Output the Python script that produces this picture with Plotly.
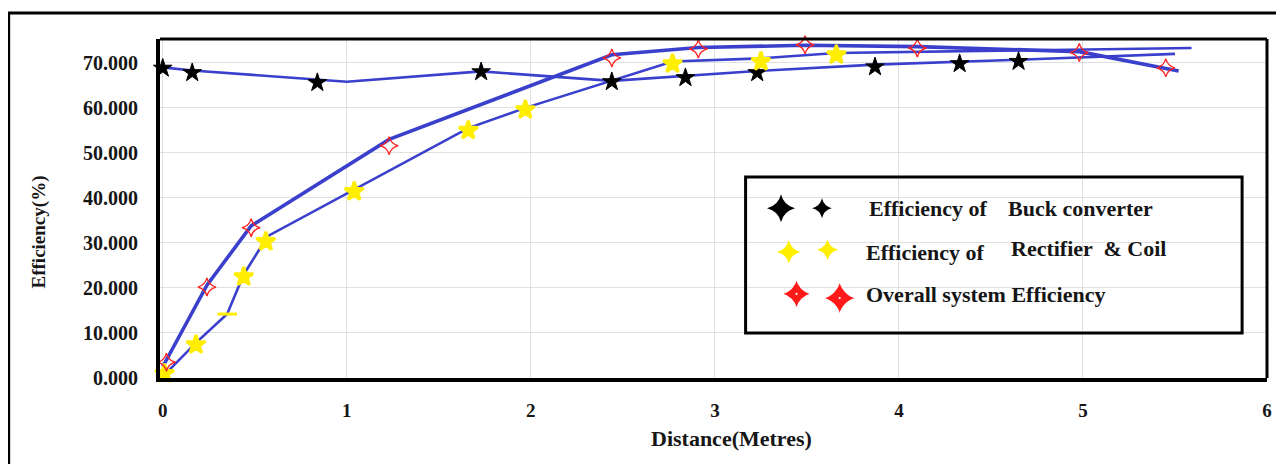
import plotly.graph_objects as go

# ---------------- data ----------------
# Efficiency of Buck converter
buck_line_x = [0.0, 0.16, 1.0, 1.73, 2.44, 2.84, 3.23, 3.87, 4.33, 4.65, 5.5]
buck_line_y = [69.0, 68.3, 65.8, 68.1, 66.0, 67.1, 68.2, 69.6, 70.2, 70.7, 72.0]
buck_mk_x = [0.0, 0.16, 0.84, 1.73, 2.44, 2.84, 3.23, 3.87, 4.33, 4.65]
buck_mk_y = [68.8, 67.8, 65.6, 68.0, 65.8, 66.7, 67.8, 69.1, 69.8, 70.3]

# Efficiency of Rectifier & Coil
rect_line_x = [0.0, 0.18, 0.35, 0.44, 0.57, 1.04, 1.66, 1.97, 2.77, 3.25, 3.66, 5.59]
rect_line_y = [0.3, 7.8, 14.2, 23.0, 31.5, 41.8, 55.5, 60.0, 70.3, 71.0, 72.2, 73.3]
rect_mk_x = [0.01, 0.18, 0.35, 0.44, 0.56, 1.04, 1.66, 1.97, 2.77, 3.25, 3.66]
rect_mk_y = [1.0, 7.4, 14.2, 22.5, 30.3, 41.4, 55.0, 59.6, 69.8, 70.3, 71.8]

# Overall system Efficiency
over_line_x = [0.0, 0.24, 0.48, 1.23, 2.44, 2.91, 3.49, 4.1, 4.98, 5.52]
over_line_y = [2.5, 20.6, 33.8, 53.0, 71.8, 73.4, 73.9, 73.6, 72.5, 68.2]
over_mk_x = [0.02, 0.24, 0.48, 1.23, 2.44, 2.91, 3.49, 4.1, 4.98, 5.45]
over_mk_y = [3.5, 20.2, 33.4, 51.6, 71.1, 73.1, 74.0, 73.3, 72.3, 68.9]

x_ticks = [0, 1, 2, 3, 4, 5, 6]
y_ticks = [0, 10, 20, 30, 40, 50, 60, 70]

legend_rows = ["buck", "rect", "over"]
legend_text_left = ["Efficiency of", "Efficiency of", "Overall system Efficiency"]
legend_text_right = ["Buck converter", "Rectifier  & Coil", ""]

# ---------------- styles ----------------
LINE = "#3a40cc"
FONT = "Liberation Serif"
TXT = "#161616"

fig = go.Figure()

fig.add_trace(go.Scatter(x=buck_line_x, y=buck_line_y, mode="lines",
                         line=dict(color=LINE, width=2.6), showlegend=False, hoverinfo="skip"))
fig.add_trace(go.Scatter(x=rect_line_x, y=rect_line_y, mode="lines",
                         line=dict(color=LINE, width=2.6), showlegend=False, hoverinfo="skip"))
fig.add_trace(go.Scatter(x=over_line_x, y=over_line_y, mode="lines",
                         line=dict(color=LINE, width=3.6), showlegend=False, hoverinfo="skip"))

fig.add_trace(go.Scatter(x=buck_mk_x, y=buck_mk_y, mode="markers", cliponaxis=False,
                         marker=dict(symbol="star", size=14, color="black", opacity=1,
                                     line=dict(color="black", width=1)),
                         showlegend=False))
rect_symbols = ["star"] * len(rect_mk_x)
rect_symbols[2] = "line-ew"
fig.add_trace(go.Scatter(x=rect_mk_x, y=rect_mk_y, mode="markers", cliponaxis=False,
                         marker=dict(symbol=rect_symbols, size=14, color="#ffee00", opacity=1,
                                     line=dict(color="#ffee00", width=3)),
                         showlegend=False))
fig.add_trace(go.Scatter(x=over_mk_x, y=over_mk_y, mode="markers", cliponaxis=False,
                         marker=dict(symbol="star-diamond-open", size=13, color="#ff2020", opacity=1,
                                     line=dict(color="#ff2020", width=1.3)),
                         showlegend=False))

# ---------------- custom legend (overlay axes in plot-area fractions) ----------------
leg_mk_x = {"buck": [0.561, 0.598], "rect": [0.568, 0.603], "over": [0.575, 0.614]}
leg_mk_y = {"buck": [0.501, 0.501], "rect": [0.372, 0.378], "over": [0.248, 0.236]}
leg_mk_size = {"buck": [20, 14], "rect": [17, 15], "over": [21, 24]}
leg_mk_color = {"buck": "black", "rect": "#ffee00", "over": "#ff1a1a"}
for key in legend_rows:
    fig.add_trace(go.Scatter(
        x=leg_mk_x[key], y=leg_mk_y[key], xaxis="x2", yaxis="y2", mode="markers",
        cliponaxis=False, showlegend=False, hoverinfo="skip",
        marker=dict(symbol="star-diamond-dot" if key == "over" else "star-diamond",
                    size=leg_mk_size[key], color=leg_mk_color[key], opacity=1,
                    line=dict(color="white" if key == "over" else leg_mk_color[key],
                              width=1.2 if key == "over" else 0))))

annotations = []
leg_txt_pos = [
    [(0.6385, 0.501), (0.764, 0.501)],
    [(0.636, 0.369), (0.767, 0.383)],
    [(0.636, 0.245), None],
]
for i in range(3):
    for j, txt in enumerate([legend_text_left[i], legend_text_right[i]]):
        pos = leg_txt_pos[i][j]
        if pos is None or not txt:
            continue
        annotations.append(dict(x=pos[0], y=pos[1], xref="paper", yref="paper",
                                text="<b>%s</b>" % txt, showarrow=False,
                                xanchor="left", yanchor="middle",
                                font=dict(family=FONT, size=22, color=TXT)))

annotations.append(dict(x=0.5165, y=-0.177, xref="paper", yref="paper",
                        text="<b>Distance(Metres)</b>", showarrow=False,
                        xanchor="center", yanchor="middle",
                        font=dict(family=FONT, size=22, color=TXT)))
annotations.append(dict(x=-0.1097, y=0.431, xref="paper", yref="paper",
                        text="<b>Efficiency(%)</b>", showarrow=False, textangle=-90,
                        xanchor="center", yanchor="middle",
                        font=dict(family=FONT, size=19, color=TXT)))

shapes = [
    # outer frame
    dict(type="rect", xref="paper", yref="paper", x0=-0.1367, x1=1.02, y0=-0.3, y1=1.0767,
         line=dict(color="black", width=3), fillcolor="rgba(0,0,0,0)", layer="above"),
    # legend box
    dict(type="rect", xref="paper", yref="paper", x0=0.529, x1=0.9775, y0=0.133, y1=0.593,
         line=dict(color="black", width=3), fillcolor="rgba(0,0,0,0)", layer="above"),
    # top & right frame of plot area
    dict(type="line", xref="paper", yref="paper", x0=0, x1=1, y0=1, y1=1,
         line=dict(color="black", width=3), layer="above"),
    dict(type="line", xref="paper", yref="paper", x0=1, x1=1, y0=0, y1=1,
         line=dict(color="black", width=3), layer="above"),
]

# the page body has an 8px margin, so the figure is 8px smaller than the window
fig.update_layout(
    width=1276, height=456,
    margin=dict(l=152, r=12, t=31, b=86),
    paper_bgcolor="white", plot_bgcolor="white",
    showlegend=False,
    annotations=annotations,
    shapes=shapes,
    xaxis=dict(range=[-0.015, 6.0], tickvals=x_ticks, ticktext=[str(v) for v in x_ticks],
               showgrid=True, gridcolor="#e0e0e0", gridwidth=1, zeroline=False,
               showline=True, linecolor="black", linewidth=4,
               ticks="", ticklabelstandoff=12,
               tickfont=dict(family=FONT, size=19, color=TXT, weight="bold")),
    yaxis=dict(range=[0, 75.3], tickvals=y_ticks, ticktext=["%.3f" % v for v in y_ticks],
               showgrid=True, gridcolor="#e0e0e0", gridwidth=1, zeroline=False,
               showline=True, linecolor="black", linewidth=4,
               ticks="", ticklabelstandoff=14,
               tickfont=dict(family=FONT, size=20, color=TXT, weight="bold")),
    xaxis2=dict(range=[0, 1], overlaying="x", visible=False, anchor="y2"),
    yaxis2=dict(range=[0, 1], overlaying="y", visible=False, anchor="x2"),
)

fig.write_html("out.html")
